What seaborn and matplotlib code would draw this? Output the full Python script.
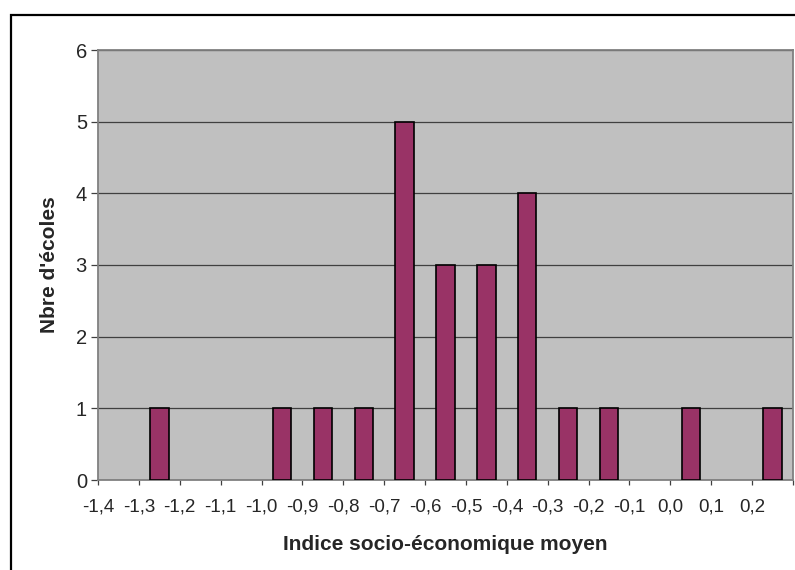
import numpy as np
import pandas as pd
import matplotlib.pyplot as plt
import seaborn as sns
from matplotlib.patches import Rectangle

sns.set_style("white")
plt.rcParams['font.family'] = ['Liberation Sans', 'DejaVu Sans']

# bin centres of the socio-economic index and number of schools per bin
bin_centres = [-1.25, -0.95, -0.85, -0.75, -0.65, -0.55, -0.45, -0.35, -0.25, -0.15, 0.05, 0.25]
nb_ecoles = [1, 1, 1, 1, 5, 3, 3, 4, 1, 1, 1, 1]
tick_values = [-1.4, -1.3, -1.2, -1.1, -1.0, -0.9, -0.8, -0.7, -0.6, -0.5, -0.4, -0.3, -0.2, -0.1, 0.0, 0.1, 0.2, 0.3]
tick_labels = ["-1,4", "-1,3", "-1,2", "-1,1", "-1,0", "-0,9", "-0,8", "-0,7", "-0,6",
               "-0,5", "-0,4", "-0,3", "-0,2", "-0,1", "0,0", "0,1", "0,2", ""]

df = pd.DataFrame({"indice": bin_centres, "n": nb_ecoles})

fig = plt.figure(figsize=(7.95, 5.7), dpi=100)
ax = fig.add_axes([98/795, 90/570, 695/795, 430/570])
ax.set_facecolor("#C0C0C0")

sns.barplot(data=df, x="indice", y="n", native_scale=True, width=0.45,
            color="#993366", saturation=1, edgecolor="black", linewidth=1.2, ax=ax, zorder=3)

ax.set_xlim(-1.4, 0.3)
ax.set_ylim(0, 6)
ax.set_yticks(range(0, 7))
ax.set_xticks(tick_values)
ax.set_xticklabels(tick_labels)
ax.yaxis.grid(True, color="#404040", linewidth=0.9, zorder=1)
ax.set_axisbelow(True)

for side in ["left", "bottom", "top", "right"]:
    ax.spines[side].set_visible(True)
    ax.spines[side].set_color("#808080")
    ax.spines[side].set_linewidth(1.3)

ax.tick_params(axis="y", direction="out", length=5, width=0.9, color="#404040", pad=3, labelsize=14.5, left=True)
ax.tick_params(axis="x", direction="out", length=3.5, width=0.9, color="#404040", pad=10, labelsize=13.5, bottom=True)

ax.set_xlabel("Indice socio-économique moyen", fontsize=15, fontweight="bold", labelpad=14)
ax.set_ylabel("Nbre d'écoles", fontsize=15, fontweight="bold", labelpad=12)

# outer chart frame (only top and left visible in the crop)
fig.patches.append(Rectangle((11/795, -0.05), 1.1, 1.05 - 15/570, transform=fig.transFigure,
                             fill=False, edgecolor="black", linewidth=1.6))

fig.savefig("out.png", dpi=100)
